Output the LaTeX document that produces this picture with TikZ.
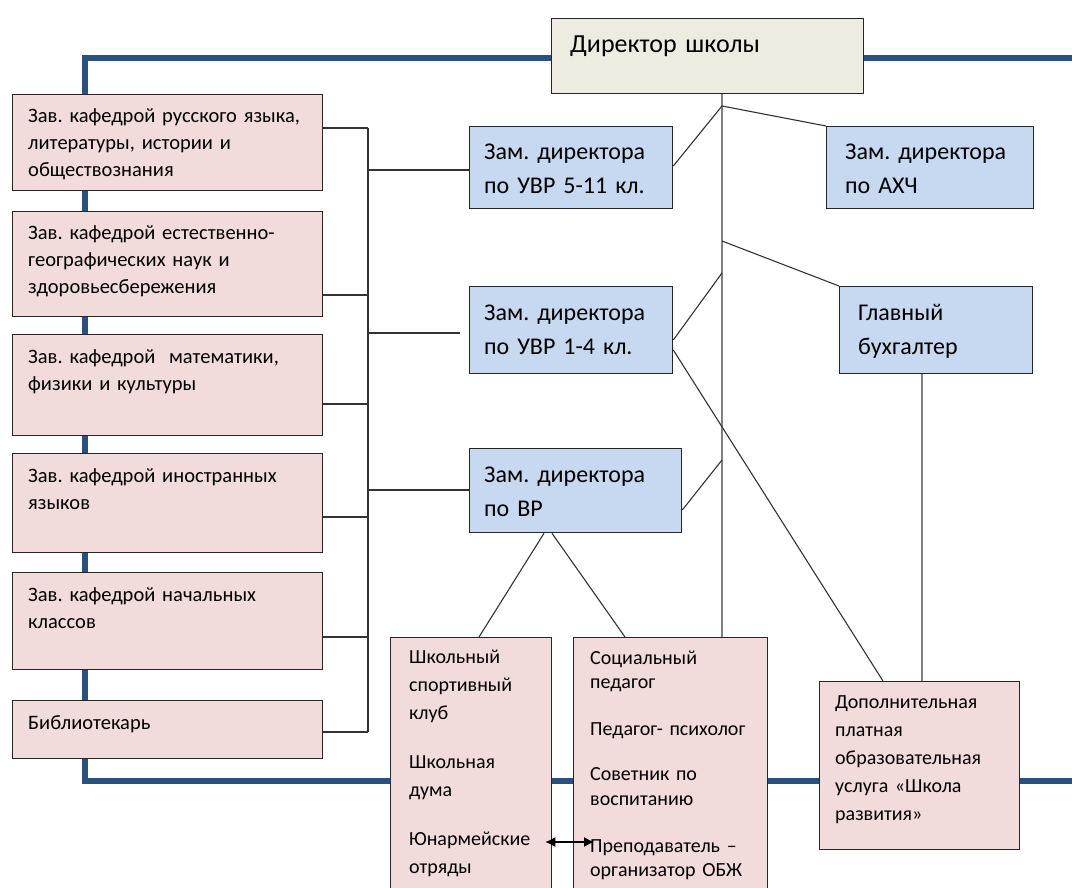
\documentclass[tikz,border=0pt]{standalone}
\usepackage{fontspec}
\setmainfont{Carlito}[WordSpace=0.75]
\usetikzlibrary{arrows.meta,calc}
\frenchspacing

\definecolor{kafpink}{RGB}{242,220,219}
\definecolor{zamblue}{RGB}{198,217,241}
\definecolor{dirbeige}{RGB}{238,236,225}
\definecolor{frameblue}{RGB}{41,80,130}

\newcommand\dirfont{\fontsize{26}{32}\selectfont}
\newcommand\kaffont{\fontsize{20.5}{27}\selectfont}
\newcommand\zamfont{\fontsize{24}{34}\selectfont}
\newcommand\botfont{\fontsize{20}{28}\selectfont}

\tikzset{
  box/.style={draw=black!85, line width=1.3pt, anchor=north west, inner sep=0pt},
  kaf/.style={box, fill=kafpink},
  zam/.style={box, fill=zamblue},
  txt/.style={anchor=base west, inner sep=0pt, align=left, text width=300pt},
  link/.style={black!80, line width=1.1pt},
  trunk/.style={black!50, line width=2pt},
  frame/.style={frameblue, line width=5.5pt},
}

\begin{document}
\begin{tikzpicture}[x=1pt,y=-1pt]
\useasboundingbox (0,0) rectangle (1072,888);
\clip (0,0) rectangle (1072,888);

% blue frame
\draw[frame] (1080,58) -| (85,781) -- (1080,781);

% director
\node[box, fill=dirbeige, minimum width=312pt, minimum height=75pt,
  label={[txt, font=\dirfont, xshift=19pt, yshift=-35pt]north west:{Директор школы}}] (dir) at (551,18) {};

% chairs of departments
\node[kaf, minimum width=310pt, minimum height=96pt,
  label={[txt, font=\kaffont, xshift=16pt, yshift=-29pt]north west:{Зав. кафедрой русского языка,\\литературы, истории и\\обществознания}}] (k1) at (12,94) {};
\node[kaf, minimum width=310pt, minimum height=105pt,
  label={[txt, font=\kaffont, xshift=16pt, yshift=-29pt]north west:{Зав. кафедрой естественно-\\географических наук и\\здоровьесбережения}}] (k2) at (12,211) {};
\node[kaf, minimum width=310pt, minimum height=101pt,
  label={[txt, font=\kaffont, xshift=16pt, yshift=-29pt]north west:{Зав. кафедрой~ математики,\\физики и культуры}}] (k3) at (12,334) {};
\node[kaf, minimum width=310pt, minimum height=99pt,
  label={[txt, font=\kaffont, xshift=16pt, yshift=-29pt]north west:{Зав. кафедрой иностранных\\языков}}] (k4) at (12,453) {};
\node[kaf, minimum width=310pt, minimum height=97pt,
  label={[txt, font=\kaffont, xshift=16pt, yshift=-29pt]north west:{Зав. кафедрой начальных\\классов}}] (k5) at (12,572) {};
\node[kaf, minimum width=310pt, minimum height=58pt,
  label={[txt, font=\kaffont, xshift=16pt, yshift=-29pt]north west:{Библиотекарь}}] (k6) at (12,700) {};

% deputies
\node[zam, minimum width=203pt, minimum height=82pt,
  label={[txt, font=\zamfont, xshift=15pt, yshift=-34pt]north west:{Зам. директора\\по УВР 5-11 кл.}}] (z1) at (469,126) {};
\node[zam, minimum width=203pt, minimum height=87pt,
  label={[txt, font=\zamfont, xshift=15pt, yshift=-34pt]north west:{Зам. директора\\по УВР 1-4 кл.}}] (z2) at (469,286) {};
\node[zam, minimum width=212pt, minimum height=84pt,
  label={[txt, font=\zamfont, xshift=15pt, yshift=-34pt]north west:{Зам. директора\\по ВР}}] (z3) at (469,448) {};
\node[zam, minimum width=207pt, minimum height=82pt,
  label={[txt, font=\zamfont, xshift=19pt, yshift=-34pt]north west:{Зам. директора\\по АХЧ}}] (axh) at (826,126) {};
\node[zam, minimum width=193pt, minimum height=87pt,
  label={[txt, font=\zamfont, xshift=19pt, yshift=-34pt]north west:{Главный\\бухгалтер}}] (gb) at (839,286) {};

% lower boxes
\node[kaf, minimum width=161pt, minimum height=263pt,
  label={[txt, font=\botfont, xshift=19pt, yshift=-26pt]north west:{Школьный\\спортивный\\клуб\\[21pt]Школьная\\дума\\[21pt]Юнармейские\\отряды}}] (shk) at (390,637) {};
\node[kaf, minimum width=194pt, minimum height=263pt,
  label={[txt, font=\fontsize{20}{24.5}\selectfont, xshift=17pt, yshift=-27pt]north west:{Социальный\\педагог\\[22.5pt]Педагог- психолог\\[20.5pt]Советник по\\воспитанию\\[22.5pt]Преподаватель –\\организатор ОБЖ}}] (soc) at (573,637) {};
\node[kaf, minimum width=200pt, minimum height=168pt,
  label={[txt, font=\botfont, xshift=16pt, yshift=-27pt]north west:{Дополнительная\\платная\\образовательная\\услуга «Школа\\развития»}}] (dop) at (819,681) {};

% left bus
\coordinate (bt) at (368,128);
\coordinate (bb) at (368,732);
\draw[link] (bt) -- (bb);
\draw[link] (k1.north east |- bt) -- (bt);
\draw[link] ([yshift=-84pt]k2.north east) coordinate (c2) -- (c2 -| bt);
\draw[link] ([yshift=-70pt]k3.north east) coordinate (c3) -- (c3 -| bt);
\draw[link] ([yshift=-64pt]k4.north east) coordinate (c4) -- (c4 -| bt);
\draw[link] ([yshift=-65pt]k5.north east) coordinate (c5) -- (c5 -| bt);
\draw[link] (k6.north east |- bb) -- (bb);
\draw[link] ([yshift=-44pt]z1.north west) coordinate (d1) -- (d1 -| bt);
\draw[link, shorten <=9pt] ([yshift=-47pt]z2.north west) coordinate (d2) -- (d2 -| bt);
\draw[link] ([yshift=-42pt]z3.north west) coordinate (d3) -- (d3 -| bt);

% trunk from director
\coordinate (j1) at (722,106);
\coordinate (j2) at (722,241);
\coordinate (j3) at (722,273);
\coordinate (j4) at (722,460);
\draw[trunk] (dir.south -| j1) -- (soc.north -| j1);
\draw[link] (j1) -- ([yshift=-40pt]z1.north east);
\draw[link] (j1) -- (axh.north west);
\draw[link] (j2) -- (gb.north west);
\draw[link] (j3) -- ([yshift=-54pt]z2.north east);
\draw[link] (j4) -- ([yshift=-62pt]z3.north east);
\draw[link] ([yshift=-64pt]z2.north east) -- ([xshift=64pt]dop.north west);
\draw[trunk] ([xshift=83pt]gb.south west) -- ([xshift=103pt]dop.north west);
\draw[link] ([xshift=75pt]z3.south west) -- ([xshift=89pt]shk.north west);
\draw[link] ([xshift=83pt]z3.south west) -- ([xshift=52pt]soc.north west);

% arrow between the lower boxes
\coordinate (ar) at (0,842);
\draw[link, black, {Latex[length=10pt,width=10pt]}-{Latex[length=10pt,width=10pt]}]
  ($(shk.east |- ar)+(-7,0)$) -- ($(soc.west |- ar)+(21,0)$);
\end{tikzpicture}
\end{document}
